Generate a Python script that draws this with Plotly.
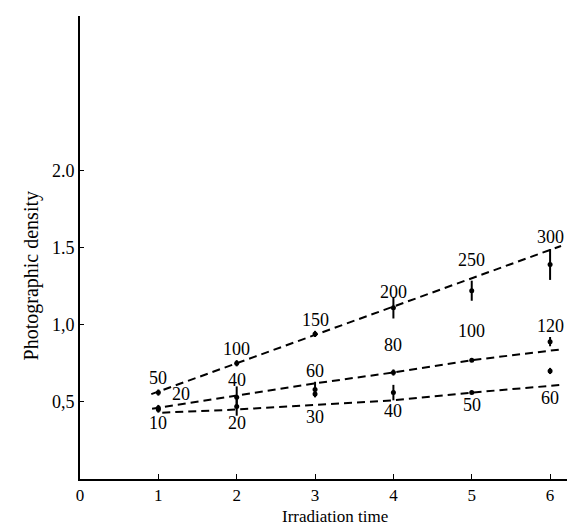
import plotly.graph_objects as go

# ---- data ----
times = [1, 2, 3, 4, 5, 6]

top_labels = ["50", "100", "150", "200", "250", "300"]
mid_labels = ["20", "40", "60", "80", "100", "120"]
bot_labels = ["10", "20", "30", "40", "50", "60"]

top_meas = [0.56, 0.75, 0.94, 1.11, 1.22, 1.39]
top_err = [0.02, 0.02, 0.02, 0.07, 0.065, 0.10]
mid_meas = [0.46, 0.53, 0.58, 0.69, 0.77, 0.89]
mid_err = [0.02, 0.07, 0.05, 0.02, 0.01, 0.03]
bot_meas = [0.45, 0.47, 0.55, 0.56, 0.56, 0.70]
bot_err = [0.02, 0.06, 0.02, 0.05, 0.01, 0.02]

# dashed fit lines
top_line_x = [0.91, 6.14]
top_line_y = [0.55, 1.51]
mid_line_x = [0.92, 2, 3, 4, 5, 6.14]
mid_line_y = [0.455, 0.54, 0.62, 0.69, 0.77, 0.84]
bot_line_x = [1.05, 2, 3, 4, 5, 6.15]
bot_line_y = [0.43, 0.45, 0.48, 0.51, 0.56, 0.61]

# label placement
top_label_y = [0.655, 0.84, 1.03, 1.21, 1.42, 1.565]
mid_label_x = [1.29, 2, 3, 4, 5, 6]
mid_label_y = [0.55, 0.64, 0.70, 0.87, 0.96, 0.99]
bot_label_y = [0.36, 0.36, 0.40, 0.44, 0.48, 0.525]

x_ticks = [0, 1, 2, 3, 4, 5, 6]
y_ticks = [0.5, 1.0, 1.5, 2.0]
y_tick_text = ["0,5", "1,0", "1.5", "2.0"]

x_title = "Irradiation time"
y_title = "Photographic density"

FONT = "Liberation Serif"
FS = 18

fig = go.Figure()

dash_style = dict(color="black", width=2, dash="8px,5px")
for lx, ly in [(top_line_x, top_line_y), (mid_line_x, mid_line_y), (bot_line_x, bot_line_y)]:
    fig.add_trace(go.Scatter(x=lx, y=ly, mode="lines", line=dash_style,
                             hoverinfo="skip", showlegend=False))

for meas, err in [(top_meas, top_err), (mid_meas, mid_err), (bot_meas, bot_err)]:
    fig.add_trace(go.Scatter(
        x=times, y=meas, mode="markers",
        marker=dict(color="black", size=5, symbol="circle"),
        error_y=dict(type="data", array=err, visible=True, color="black",
                     thickness=2, width=0),
        showlegend=False))

annotations = []
for xs, labels, ys in [(times, top_labels, top_label_y),
                       (mid_label_x, mid_labels, mid_label_y),
                       (times, bot_labels, bot_label_y)]:
    for x, t, y in zip(xs, labels, ys):
        annotations.append(dict(x=x, y=y, text=t, showarrow=False,
                                xanchor="center", yanchor="middle",
                                font=dict(family=FONT, size=FS, color="black")))

# axis titles as paper-positioned text (as placed in the original figure)
annotations.append(dict(xref="paper", yref="paper", x=0.507, y=-0.081,
                        text=x_title, showarrow=False, xanchor="center", yanchor="middle",
                        font=dict(family=FONT, size=17, color="black")))
annotations.append(dict(xref="paper", yref="paper", x=-0.097, y=0.438,
                        text=y_title, showarrow=False, textangle=-90,
                        xanchor="center", yanchor="middle",
                        font=dict(family=FONT, size=20, color="black")))

fig.update_layout(
    width=575, height=526,
    margin=dict(l=72, r=0, t=8, b=55),
    paper_bgcolor="white", plot_bgcolor="white",
    showlegend=False,
    annotations=annotations,
    font=dict(family=FONT, size=FS, color="black"),
)
fig.update_xaxes(
    range=[0, 6.42], tickvals=x_ticks, ticktext=[str(v) for v in x_ticks],
    showgrid=False, zeroline=False, showline=True, linecolor="black", linewidth=2,
    ticks="inside", ticklen=5, tickcolor="black", tickwidth=1,
    tickfont=dict(family=FONT, size=17, color="black"),
)
fig.update_yaxes(
    range=[0, 3.0], tickvals=y_ticks, ticktext=y_tick_text,
    showgrid=False, zeroline=False, showline=True, linecolor="black", linewidth=2,
    ticks="inside", ticklen=4, tickcolor="black", tickwidth=1,
    tickfont=dict(family=FONT, size=FS, color="black"),
)

fig.write_html("out.html")
